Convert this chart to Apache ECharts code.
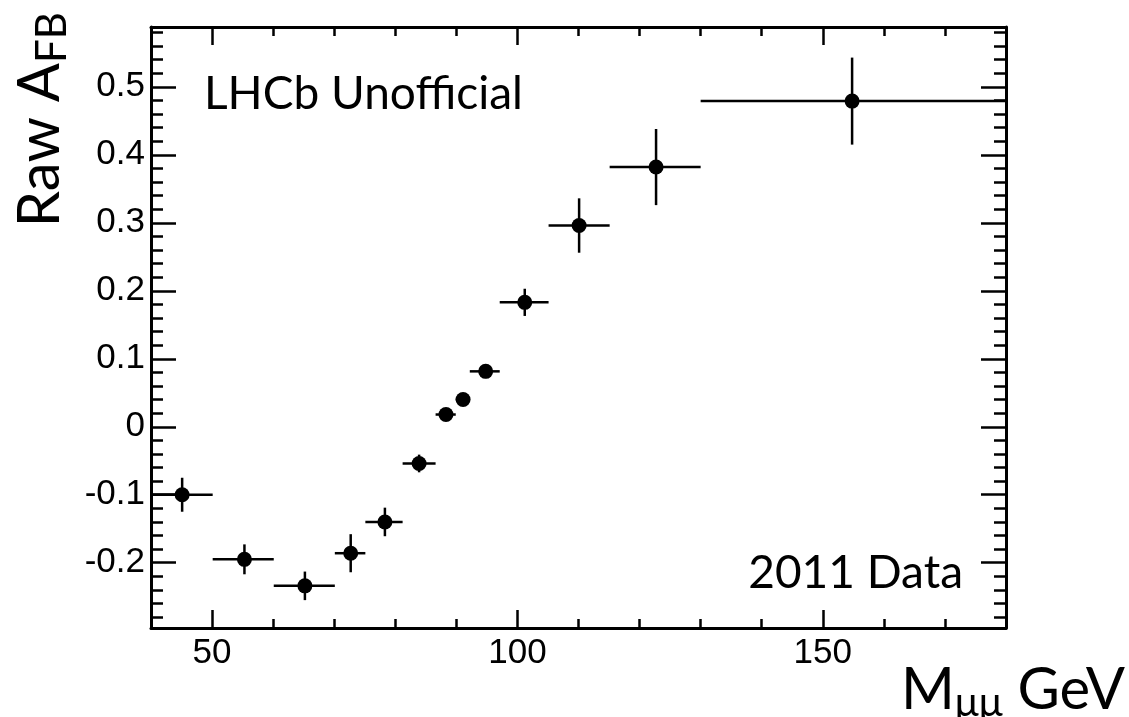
<!DOCTYPE html>
<html>
<head>
<meta charset="utf-8">
<script src="https://cdn.jsdelivr.net/npm/echarts@6/dist/echarts.min.js"></script>
<style>
html, body { margin: 0; padding: 0; background: #fff; }
#main { width: 1129px; height: 717px; }
</style>
</head>
<body>
<div id="main"></div>
<script>
// dimuon mass bins (GeV): bin centre and edges
var massCenter = [45.1, 55.3, 65.2, 72.7, 78.3, 83.9, 88.3, 91.1, 94.8, 101.2, 110.1, 122.7, 154.8];
var binLow = [40, 50.1, 60.1, 70.1, 75.1, 81.2, 86.6, 89.9, 92.2, 97.1, 105.1, 115.1, 130];
var binHigh = [50.1, 60.1, 70.1, 75.1, 81.2, 86.6, 89.9, 92.2, 97.1, 105.1, 115.1, 130, 180];
// raw forward-backward asymmetry and its error
var afb = [-0.100, -0.195, -0.234, -0.186, -0.140, -0.054, 0.018, 0.040, 0.0815, 0.183, 0.296, 0.382, 0.479];
var afbErr = [0.025, 0.022, 0.021, 0.028, 0.021, 0.013, 0.009, 0.009, 0.010, 0.020, 0.040, 0.056, 0.064];

// tick positions
var xMajorTicks = [50, 100, 150];
var xMinorTicks = [60, 70, 80, 90, 110, 120, 130, 140, 160, 170];
var yMajorTicks = [-0.2, -0.1, 0, 0.1, 0.2, 0.3, 0.4, 0.5];
var yMinorTicks = [];
for (var k = -14; k <= 29; k++) {
    if (k % 5 !== 0) yMinorTicks.push(Math.round(k * 2) / 100);
}

var myChart = echarts.init(document.getElementById('main'));

var points = massCenter.map(function (m, i) {
    return [m, afb[i], binLow[i], binHigh[i], afbErr[i]];
});

function renderErrorBar(params, api) {
    var lo = api.coord([api.value(2), api.value(1)]);
    var hi = api.coord([api.value(3), api.value(1)]);
    var up = api.coord([api.value(0), api.value(1) + api.value(4)]);
    var down = api.coord([api.value(0), api.value(1) - api.value(4)]);
    var style = { stroke: '#000', lineWidth: 2.5 };
    return {
        type: 'group',
        children: [
            { type: 'line', shape: { x1: lo[0], y1: lo[1], x2: hi[0], y2: hi[1] }, style: style },
            { type: 'line', shape: { x1: up[0], y1: up[1], x2: down[0], y2: down[1] }, style: style }
        ]
    };
}

var labelFont = { color: '#000', fontSize: 35, fontFamily: 'Liberation Sans' };

// one axis per side and tick length, ROOT style frame
function xAx(pos, ticks, len, extra) {
    return Object.assign({
        type: 'value', position: pos, min: 40, max: 180,
        axisLine: { show: true, onZero: false, lineStyle: { color: '#000', width: 3 } },
        axisTick: { show: true, inside: true, length: len, customValues: ticks, lineStyle: { color: '#000', width: 2.5 } },
        axisLabel: { show: false },
        splitLine: { show: false }
    }, extra || {});
}
function yAx(pos, ticks, len, extra) {
    return Object.assign({
        type: 'value', position: pos, min: -0.296, max: 0.588,
        axisLine: { show: true, onZero: false, lineStyle: { color: '#000', width: 3 } },
        axisTick: { show: true, inside: true, length: len, customValues: ticks, lineStyle: { color: '#000', width: 2.5 } },
        axisLabel: { show: false },
        splitLine: { show: false }
    }, extra || {});
}

var option = {
    animation: false,
    backgroundColor: '#fff',
    grid: { left: 151, right: 123, top: 27, bottom: 89, containLabel: false, outerBoundsMode: 'none' },
    title: [
        {
            text: 'LHCb Unofficial', left: 199, top: 66,
            textStyle: { fontFamily: 'Lato', fontWeight: 'normal', fontSize: 46, color: '#000' }
        },
        {
            text: '2011 Data', right: 161, top: 545,
            textStyle: { fontFamily: 'Lato', fontWeight: 'normal', fontSize: 46, color: '#000' }
        }
    ],
    xAxis: [
        xAx('bottom', xMajorTicks, 18, {
            axisLabel: Object.assign({ show: true, margin: 8, customValues: xMajorTicks }, labelFont),
            name: '{a|M}{b|\u03bc\u03bc}{a| GeV}',
            nameLocation: 'end',
            nameGap: 119,
            nameTextStyle: {
                align: 'right', verticalAlign: 'top', padding: [29, 0, 0, 0],
                rich: {
                    a: { fontFamily: 'Lato', fontSize: 58, lineHeight: 66, color: '#000' },
                    b: { fontFamily: 'Lato', fontSize: 40, lineHeight: 50, verticalAlign: 'bottom', color: '#000' }
                }
            }
        }),
        xAx('bottom', xMinorTicks, 9, { axisLine: { show: false, onZero: false } }),
        xAx('top', xMajorTicks, 18),
        xAx('top', xMinorTicks, 9, { axisLine: { show: false, onZero: false } })
    ],
    yAxis: [
        yAx('left', yMajorTicks, 25, {
            axisLabel: Object.assign({ show: true, margin: 6, customValues: yMajorTicks }, labelFont),
            name: '{a|Raw A}{b|FB}',
            nameLocation: 'end',
            nameGap: 15,
            nameRotate: 90,
            nameTextStyle: {
                align: 'right', verticalAlign: 'bottom', padding: [0, 0, 78, 0],
                rich: {
                    a: { fontFamily: 'Lato', fontSize: 58, lineHeight: 66, color: '#000' },
                    b: { fontFamily: 'Lato', fontSize: 42, lineHeight: 38, verticalAlign: 'bottom', color: '#000' }
                }
            }
        }),
        yAx('left', yMinorTicks, 12, { axisLine: { show: false, onZero: false } }),
        yAx('right', yMajorTicks, 25),
        yAx('right', yMinorTicks, 12, { axisLine: { show: false, onZero: false } })
    ],
    series: [
        {
            type: 'custom',
            renderItem: renderErrorBar,
            data: points,
            xAxisIndex: 0,
            yAxisIndex: 0,
            clip: false,
            z: 2
        },
        {
            type: 'scatter',
            data: points.map(function (p) { return [p[0], p[1]]; }),
            xAxisIndex: 0,
            yAxisIndex: 0,
            symbol: 'circle',
            symbolSize: 15,
            itemStyle: { color: '#000', opacity: 1 },
            z: 3
        }
    ]
};

myChart.setOption(option);
</script>
</body>
</html>
